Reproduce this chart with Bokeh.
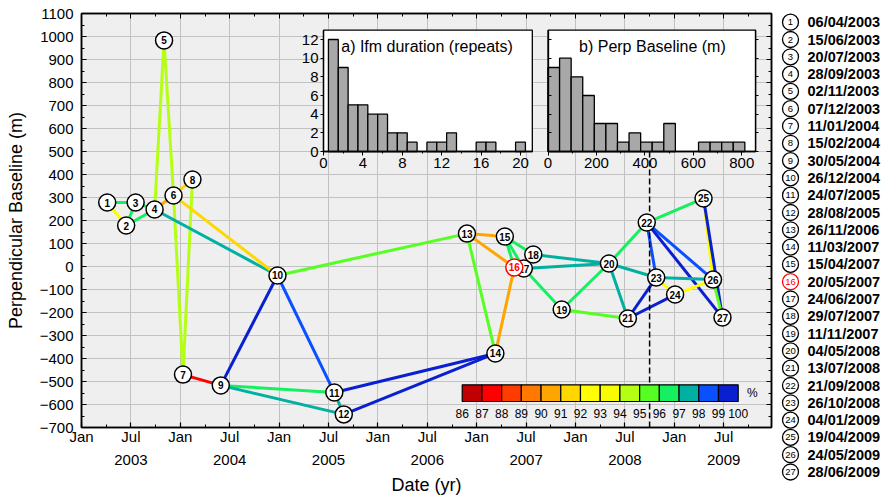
import datetime as dt
from bokeh.plotting import figure
from bokeh.models import Range1d, LinearAxis, FixedTicker, ColumnDataSource, LinearColorMapper
from bokeh.layouts import row
from bokeh.transform import transform
from bokeh.core.properties import value
from bokeh.embed import file_html
from bokeh.resources import INLINE

FONT = "Liberation Sans"

# ------------------------------------------------------------------ data
dates = ["06/04/2003", "15/06/2003", "20/07/2003", "28/09/2003", "02/11/2003",
         "07/12/2003", "11/01/2004", "15/02/2004", "30/05/2004", "26/12/2004",
         "24/07/2005", "28/08/2005", "26/11/2006", "11/03/2007", "15/04/2007",
         "20/05/2007", "24/06/2007", "29/07/2007", "11/11/2007", "04/05/2008",
         "13/07/2008", "21/09/2008", "26/10/2008", "04/01/2009", "19/04/2009",
         "24/05/2009", "28/06/2009"]
perp_baseline = [278, 178, 278, 248, 983, 309, -470, 378, -517, -39,
                 -548, -643, 143, -378, 130, -4, -9, 52, -187, 13,
                 -226, 191, -48, -122, 296, -57, -222]
master_image = 16

edge_from = [1, 1, 2, 2, 3, 4, 4, 5, 6, 6, 7, 4, 6, 7, 9, 10, 9, 9, 11, 11,
             12, 10, 13, 13, 13, 14, 15, 15, 16, 15, 17, 17, 17, 18, 19, 19, 20, 20, 20, 21,
             21, 22, 22, 22, 22, 23, 23, 24, 25, 25, 26]
edge_to = [2, 3, 3, 4, 4, 5, 6, 6, 7, 8, 8, 10, 10, 9, 10, 11, 11, 12, 12, 14,
           14, 13, 14, 15, 16, 16, 16, 17, 17, 18, 18, 19, 20, 20, 20, 21, 21, 22, 23, 23,
           24, 23, 25, 26, 27, 24, 26, 26, 26, 27, 27]
coherence = [92.5, 96.5, 96.5, 96.5, 96.5, 94.5, 90.5, 94.5, 94.5, 91.5, 94.5, 97.5, 91.5, 87.5, 99.5,
             98.5, 96.5, 97.5, 97.5, 99.5, 99.5, 95.5, 95.5, 90.5, 90.5, 90.5, 96.5, 96.5, 96.5, 96.5,
             97.5, 96.5, 97.5, 97.5, 96.5, 95.5, 97.5, 96.5, 97.5, 99.5, 99.5, 98.5, 96.5, 98.5, 99.5,
             92.5, 97.5, 92.5, 92.5, 99.5, 95.5]

dur_centres = [1, 2, 3, 4, 5, 6, 7, 8, 9, 10, 11, 12, 13, 14, 15, 16, 17, 18, 19, 20]
dur_counts = [12, 9, 5, 5, 4, 4, 2, 2, 1, 0, 1, 1, 2, 0, 0, 1, 1, 0, 0, 1]
bperp_bin_width = 47.8
bperp_counts = [9, 10, 8, 6, 3, 3, 1, 2, 1, 1, 3, 0, 0, 1, 1, 1, 1]

coh_levels = [86, 87, 88, 89, 90, 91, 92, 93, 94, 95, 96, 97, 98, 99, 100]
coh_palette = ["#c00000", "#ff0000", "#ff3c00", "#ff7800", "#ffa500", "#ffd700", "#ffff00",
               "#f8fc00", "#b4ff14", "#55ff22", "#15f060", "#00b0a0", "#0a50ff", "#0a20d0"]
marker_date = 2008.75

year_ticks = [2003.5, 2004.5, 2005.5, 2006.5, 2007.5, 2008.5, 2009.5]
year_labels = ["2003", "2004", "2005", "2006", "2007", "2008", "2009"]
y_ticks = list(range(-700, 1101, 100))


# ------------------------------------------------------------------ helpers
def decyear(s):
    d = dt.datetime.strptime(s, "%d/%m/%Y").date()
    a = dt.date(d.year, 1, 1)
    b = dt.date(d.year + 1, 1, 1)
    return d.year + (d - a).days / (b - a).days


t = [decyear(s) for s in dates]
idx = {i + 1: i for i in range(len(dates))}

# pixel frame of main plot, used to place insets
L, R, T, B = 81, 771, 13, 427
H = 498


def hrange(d0, p0, d1, p1):
    s = (p1 - p0) / (d1 - d0)
    return Range1d(d0 + (L - p0) / s, d0 + (R - p0) / s)


def vrange(d0, p0, d1, p1):
    s = (p1 - p0) / (d1 - d0)
    return Range1d(d0 + (B - p0) / s, d0 + (T - p0) / s)


def blank(ticks):
    return {v: "" for v in ticks}


# ------------------------------------------------------------------ main figure
W_MAIN = 775
p = figure(width=W_MAIN, height=H, x_range=Range1d(2003, 2003 + (R - L) / 98.8),
           y_range=Range1d(-700, 1100), output_backend="svg", toolbar_location=None,
           min_border_left=L, min_border_right=W_MAIN - R, min_border_top=T, min_border_bottom=H - B,
           background_fill_color="#efefef", border_fill_color="white",
           outline_line_color="black", outline_line_width=1.5)
if "frame_align" in p.properties():
    p.frame_align = False

half_years = [2003 + 0.5 * k for k in range(14)]
quarters = [2003 + 0.25 * k for k in range(28)]
x_overrides = {h: ("Jan" if abs(h - round(h)) < 1e-9 else "Jul") for h in half_years}
y_minor = list(range(-700, 1101, 50))

xa = p.below[0]
xa.ticker = FixedTicker(ticks=half_years, minor_ticks=quarters)
xa.major_label_overrides = x_overrides
ya = p.left[0]
ya.ticker = FixedTicker(ticks=y_ticks, minor_ticks=y_minor)
ya.major_label_overrides = {v: (str(v).replace("-", "\u2212")) for v in y_ticks}
ya.axis_label = "Perpendicular Baseline (m)"
for ax in (xa, ya):
    ax.major_tick_in = 5
    ax.major_tick_out = 0
    ax.minor_tick_in = 3
    ax.minor_tick_out = 0
    ax.axis_line_width = 1.5
    ax.major_tick_line_width = 1.2
    ax.major_label_text_font = FONT
    ax.major_label_text_font_size = "15px"
    ax.major_label_text_color = "black"
    ax.axis_label_text_font = FONT
    ax.axis_label_text_font_size = "18px"
    ax.axis_label_text_font_style = "normal"
    ax.axis_label_text_color = "black"
xa.major_label_standoff = 0
ya.major_label_standoff = 8
ya.axis_label_standoff = 11

yr_axis = LinearAxis(ticker=FixedTicker(ticks=year_ticks, minor_ticks=[]),
                     major_label_overrides=dict(zip(year_ticks, year_labels)),
                     axis_line_color=None, major_tick_line_color=None, minor_tick_line_color=None,
                     major_label_standoff=1, major_label_text_font=FONT,
                     major_label_text_font_size="15px", major_label_text_color="black",
                     axis_label="Date (yr)", axis_label_text_color="black",
                     axis_label_text_font=FONT, axis_label_text_font_size="18px",
                     axis_label_text_font_style="normal", axis_label_standoff=7)
p.add_layout(yr_axis, "below")

top_axis = LinearAxis(ticker=FixedTicker(ticks=half_years, minor_ticks=quarters),
                      major_label_overrides=blank(half_years), major_label_text_font_size="1px",
                      major_label_standoff=0, major_tick_in=5, major_tick_out=0,
                      minor_tick_in=3, minor_tick_out=0, axis_line_width=1.5)
p.add_layout(top_axis, "above")
right_axis = LinearAxis(ticker=FixedTicker(ticks=y_ticks, minor_ticks=y_minor),
                        major_label_overrides=blank(y_ticks), major_label_text_font_size="1px",
                        major_label_standoff=0, major_tick_in=5, major_tick_out=0,
                        minor_tick_in=3, minor_tick_out=0, axis_line_width=1.5)
p.add_layout(right_axis, "right")

p.xgrid.ticker = FixedTicker(ticks=half_years)
p.ygrid.ticker = FixedTicker(ticks=y_ticks)
p.grid.grid_line_color = "#c2c2c2"
p.grid.grid_line_width = 1

# ------------------------------------------------------------------ extra ranges for insets
p.extra_x_ranges = {"ha": hrange(0, 323, 20, 520), "hb": hrange(0, 547.5, 800, 741.3),
                    "cbx": hrange(86, 461.7, 100, 737.7)}
p.extra_y_ranges = {"hy": vrange(0, 151, 12, 39), "cby": vrange(0, 401, 1, 384.3)}

# ------------------------------------------------------------------ network
mapper = LinearColorMapper(palette=coh_palette, low=coh_levels[0], high=coh_levels[-1])
esrc = ColumnDataSource(dict(
    x0=[t[idx[a]] for a in edge_from], y0=[perp_baseline[idx[a]] for a in edge_from],
    x1=[t[idx[b]] for b in edge_to], y1=[perp_baseline[idx[b]] for b in edge_to],
    coh=coherence))
p.segment("x0", "y0", "x1", "y1", source=esrc, line_color=transform("coh", mapper), line_width=3)

p.segment(x0=[marker_date], y0=[500], x1=[marker_date], y1=[-700], line_color="black",
          line_width=1.5, line_dash="6 3")

# nodes: the master image gets its own glyphs drawn last so it sits on top
others = [i for i in range(len(dates)) if i + 1 != master_image]
m = master_image - 1
nsrc = ColumnDataSource(dict(x=[t[i] for i in others], y=[perp_baseline[i] for i in others],
                             lab=[str(i + 1) for i in others]))
msrc = ColumnDataSource(dict(x=[t[m]], y=[perp_baseline[m]], lab=[str(master_image)]))
for src, col in ((nsrc, "black"), (msrc, "red")):
    p.scatter("x", "y", source=src, size=17, fill_color="white", line_color=col, line_width=1.5)
    p.text("x", "y", text="lab", source=src, text_align="center", text_baseline="middle",
           text_font=value(FONT), text_font_style="bold", text_font_size="10px", text_color=col)

# ------------------------------------------------------------------ inset a: duration histogram
p.quad(left=[0], right=[21.2], bottom=[0], top=[13], x_range_name="ha", y_range_name="hy",
       fill_color="white", line_color="black", line_width=1.3)
da = [(c, n) for c, n in zip(dur_centres, dur_counts) if n > 0]
p.quad(left=[c - 0.5 for c, n in da], right=[c + 0.5 for c, n in da], bottom=0,
       top=[n for c, n in da], x_range_name="ha", y_range_name="hy",
       fill_color="#a8a8a8", line_color="black", line_width=1.3)
p.text(x=[1.8], y=[11.3], text=["a) Ifm duration (repeats)"], x_range_name="ha", y_range_name="hy",
       text_baseline="middle", text_font=value(FONT), text_font_size="16px", text_color="black")

ax_a_x = LinearAxis(x_range_name="ha", y_range_name="hy", fixed_location=0, bounds=(0, 21.2),
                    ticker=FixedTicker(ticks=[0, 4, 8, 12, 16, 20], minor_ticks=[2, 6, 10, 14, 18]),
                    major_tick_in=0, major_tick_out=4, minor_tick_in=0, minor_tick_out=2,
                    major_label_standoff=2, major_label_text_font=FONT, major_label_text_font_size="15px",
                    major_label_text_color="black", axis_line_width=1.3)
p.add_layout(ax_a_x, "below")
ax_a_y = LinearAxis(x_range_name="ha", y_range_name="hy", fixed_location=0, bounds=(0, 13),
                    ticker=FixedTicker(ticks=[0, 2, 4, 6, 8, 10, 12], minor_ticks=[]),
                    major_tick_in=0, major_tick_out=3, major_label_standoff=2,
                    major_label_text_font=FONT, major_label_text_font_size="15px",
                    major_label_text_color="black", axis_line_width=1.3)
p.add_layout(ax_a_y, "left")

# ------------------------------------------------------------------ inset b: baseline histogram
p.quad(left=[0], right=[857], bottom=[0], top=[13], x_range_name="hb", y_range_name="hy",
       fill_color="white", line_color="black", line_width=1.3)
db = [(k, n) for k, n in enumerate(bperp_counts) if n > 0]
p.quad(left=[k * bperp_bin_width for k, n in db], right=[(k + 1) * bperp_bin_width for k, n in db],
       bottom=0, top=[n for k, n in db], x_range_name="hb", y_range_name="hy",
       fill_color="#a8a8a8", line_color="black", line_width=1.3)
p.text(x=[431], y=[11.3], text=["b) Perp Baseline (m)"], x_range_name="hb", y_range_name="hy",
       text_align="center", text_baseline="middle", text_font=value(FONT), text_font_size="16px",
       text_color="black")
ax_b_x = LinearAxis(x_range_name="hb", y_range_name="hy", fixed_location=0, bounds=(0, 857),
                    ticker=FixedTicker(ticks=[0, 200, 400, 600, 800], minor_ticks=[100, 300, 500, 700]),
                    major_tick_in=0, major_tick_out=4, minor_tick_in=0, minor_tick_out=2,
                    major_label_standoff=2, major_label_text_font=FONT, major_label_text_font_size="15px",
                    major_label_text_color="black", axis_line_width=1.3)
p.add_layout(ax_b_x, "below")
b_yt = [0, 2, 4, 6, 8, 10, 12]
ax_b_y = LinearAxis(x_range_name="hb", y_range_name="hy", fixed_location=0, bounds=(0, 13),
                    ticker=FixedTicker(ticks=b_yt, minor_ticks=[]), major_label_overrides=blank(b_yt),
                    major_tick_in=3, major_tick_out=0, major_label_text_font_size="1px",
                    major_label_standoff=0, axis_line_width=1.3)
p.add_layout(ax_b_y, "left")
ax_b_r = LinearAxis(x_range_name="hb", y_range_name="hy", fixed_location=857, bounds=(0, 13),
                    ticker=FixedTicker(ticks=b_yt, minor_ticks=[]), major_label_overrides=blank(b_yt),
                    major_tick_in=0, major_tick_out=3, major_label_text_font_size="1px",
                    major_label_standoff=0, axis_line_width=1.3)
p.add_layout(ax_b_r, "right")

# ------------------------------------------------------------------ colour scale
p.quad(left=coh_levels[:-1], right=coh_levels[1:], bottom=0, top=1, fill_color=coh_palette,
       line_color="black", line_width=1.2, x_range_name="cbx", y_range_name="cby")
cb_axis = LinearAxis(x_range_name="cbx", y_range_name="cby", fixed_location=0, bounds=(86, 100),
                     ticker=FixedTicker(ticks=coh_levels, minor_ticks=[]),
                     axis_line_color=None, major_tick_line_color=None, minor_tick_line_color=None,
                     major_label_standoff=1, major_label_text_font=FONT, major_label_text_font_size="12px",
                     major_label_text_color="black")
p.add_layout(cb_axis, "below")
p.text(x=[100.45], y=[0.5], text=["%"], x_range_name="cbx", y_range_name="cby",
       text_baseline="middle", text_font=value(FONT), text_font_size="12px", text_color="black")

# ------------------------------------------------------------------ legend figure
n = len(dates)
W_LEG = 881 - W_MAIN
row0, step = 21.7, 17.3
lg = figure(width=W_LEG, height=H, x_range=Range1d(0, W_LEG),
            y_range=Range1d(1 + (H - row0) / step, 1 - row0 / step),
            x_axis_type=None, y_axis_type=None, output_backend="svg", toolbar_location=None,
            min_border=0, outline_line_color=None, background_fill_color="white",
            border_fill_color="white")
if "frame_align" in lg.properties():
    lg.frame_align = False
lg.grid.visible = False
lsrc = ColumnDataSource(dict(y=list(range(1, n + 1)), lab=[str(i) for i in range(1, n + 1)],
                             d=dates, c=["red" if i == master_image else "black" for i in range(1, n + 1)]))
lg.scatter(x=15, y="y", source=lsrc, size=16, fill_color="white", line_color="c", line_width=1.3)
lg.text(x=15, y="y", text="lab", source=lsrc, text_align="center", text_baseline="middle",
        text_font=value(FONT), text_font_size="9.5px", text_color="c")
lg.text(x=32, y="y", text="d", source=lsrc, text_align="left", text_baseline="middle",
        text_font=value(FONT), text_font_style="bold", text_font_size="14.5px", text_color="black")

layout = row(p, lg, spacing=0)
open("out.html", "w").write(file_html(layout, INLINE))
